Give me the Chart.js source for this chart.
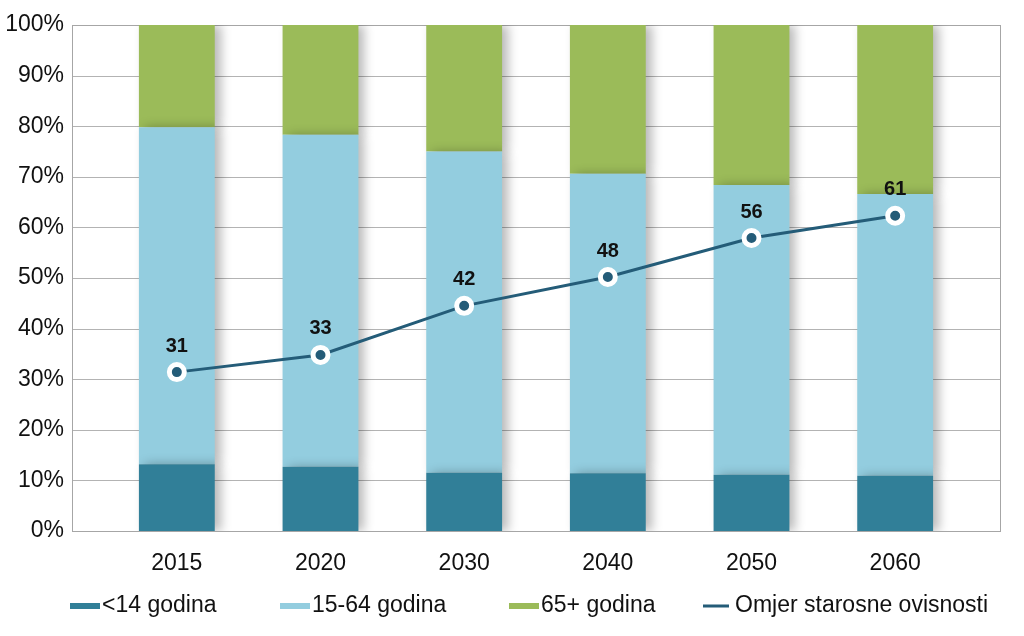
<!DOCTYPE html>
<html>
<head>
<meta charset="utf-8">
<script src="https://cdn.jsdelivr.net/npm/chart.js@4/dist/chart.umd.min.js"></script>
<style>
  html, body { margin: 0; padding: 0; background: #fff; }
  #wrap { width: 1024px; height: 636px; }
</style>
</head>
<body>
<div id="wrap"><canvas id="grafica"></canvas></div>
<script>
// podaci procitani sa slike
const godine = ['2015', '2020', '2030', '2040', '2050', '2060']
const djeca = [13.2, 12.7, 11.5, 11.4, 11.1, 10.9]
const radnoSposobni = [66.6, 65.6, 63.5, 59.2, 57.3, 55.7]
const stariji = [20.2, 21.7, 25.0, 29.4, 31.6, 33.4]
// polozaj tocke na osi i oznaka koja pise iznad nje
const omjer = [31.4, 34.8, 44.5, 50.2, 57.9, 62.3]
const omjerOznake = ['31', '33', '42', '48', '56', '61']

const font = "'Liberation Sans', Arial, sans-serif"
// koliko okvir i mreza izlaze lijevo/desno od podrucja stupaca
const rub = 33

// sjena desno od stupaca
const sjena = {
  id: 'sjena',
  beforeDatasetDraw(chart, args) {
    if (args.meta.type !== 'bar') return
    const ctx = chart.ctx
    ctx.save()
    ctx.shadowColor = 'rgba(0,0,0,0.28)'
    ctx.shadowBlur = 10
    ctx.shadowOffsetX = 6
  },
  afterDatasetDraw(chart, args) {
    if (args.meta.type !== 'bar') return
    chart.ctx.restore()
  }
}

// mreza i okvir, siri od podrucja stupaca
const okvir = {
  id: 'okvir',
  beforeDatasetsDraw(chart) {
    const { ctx, chartArea: a } = chart
    const y = chart.scales.y
    const l = a.left - rub, r = a.right + rub
    ctx.save()
    ctx.lineWidth = 1
    ctx.strokeStyle = '#b3b3b3'
    y.ticks.forEach(t => {
      const py = Math.round(y.getPixelForValue(t.value)) + 0.5
      ctx.beginPath()
      ctx.moveTo(l, py)
      ctx.lineTo(r, py)
      ctx.stroke()
    })
    ctx.strokeStyle = '#a6a6a6'
    ctx.strokeRect(l + 0.5, Math.round(a.top) + 0.5, r - l, Math.round(a.bottom - a.top))
    ctx.restore()
  }
}

// brojke iznad tocaka linije
const oznake = {
  id: 'oznake',
  afterDatasetsDraw(chart) {
    const ctx = chart.ctx
    const meta = chart.getDatasetMeta(3)
    ctx.save()
    ctx.font = 'bold 20px ' + font
    ctx.fillStyle = '#111'
    ctx.textAlign = 'center'
    ctx.textBaseline = 'middle'
    meta.data.forEach((p, i) => {
      ctx.fillText(omjerOznake[i], p.x, p.y - 26)
    })
    ctx.restore()
  }
}

// legenda ispod grafa, crtana rucno zbog razmaka
const legenda = {
  id: 'legenda',
  afterDraw(chart) {
    const ctx = chart.ctx
    const pocetci = [70, 280, 509, 703]
    const y = 606
    ctx.save()
    ctx.font = '23px ' + font
    ctx.textBaseline = 'middle'
    chart.data.datasets.forEach((ds, i) => {
      const x = pocetci[i]
      ctx.fillStyle = ds.backgroundColor
      if (ds.type === 'line') {
        ctx.fillRect(x, y - 1.5, 26, 3)
      } else {
        ctx.fillRect(x, y - 3, 30, 6)
      }
      ctx.fillStyle = '#111'
      ctx.fillText(ds.label, x + 32, y)
    })
    ctx.restore()
  }
}

new Chart(document.getElementById('grafica'), {
  type: 'bar',
  data: {
    labels: godine,
    datasets: [
      { label: '<14 godina', data: djeca, backgroundColor: '#317f98', stack: 'dob', order: 1 },
      { label: '15-64 godina', data: radnoSposobni, backgroundColor: '#93cddf', stack: 'dob', order: 1 },
      { label: '65+ godina', data: stariji, backgroundColor: '#9bbb59', stack: 'dob', order: 1 },
      {
        type: 'line',
        label: 'Omjer starosne ovisnosti',
        data: omjer,
        stack: 'omjer',
        order: 0,
        borderColor: '#245c78',
        backgroundColor: '#245c78',
        borderWidth: 3,
        pointRadius: 7.5,
        pointBorderWidth: 5,
        pointBorderColor: '#ffffff',
        pointBackgroundColor: '#245c78',
        tension: 0
      }
    ]
  },
  options: {
    responsive: true,
    maintainAspectRatio: false,
    animation: false,
    datasets: {
      bar: { barPercentage: 0.528, categoryPercentage: 1 }
    },
    layout: { padding: { top: 25, right: 24 + rub, left: 5, bottom: 61 } },
    plugins: {
      tooltip: { enabled: false },
      legend: { display: false }
    },
    scales: {
      x: {
        stacked: true,
        grid: { display: false, drawTicks: false },
        border: { display: false },
        ticks: { color: '#111', padding: 19, font: { family: font, size: 23 } },
        afterFit: s => { s.height = 44; s.paddingLeft = 0; s.paddingRight = 0 }
      },
      y: {
        stacked: true,
        min: 0,
        max: 100,
        grid: { display: false, drawTicks: false },
        border: { display: false },
        ticks: {
          stepSize: 10,
          padding: 8 + rub,
          color: '#111',
          font: { family: font, size: 23 },
          callback: v => v + '%'
        },
        afterFit: s => { s.width = 67 + rub; s.paddingTop = 0; s.paddingBottom = 0 }
      }
    }
  },
  plugins: [okvir, sjena, oznake, legenda]
})
</script>
</body>
</html>
